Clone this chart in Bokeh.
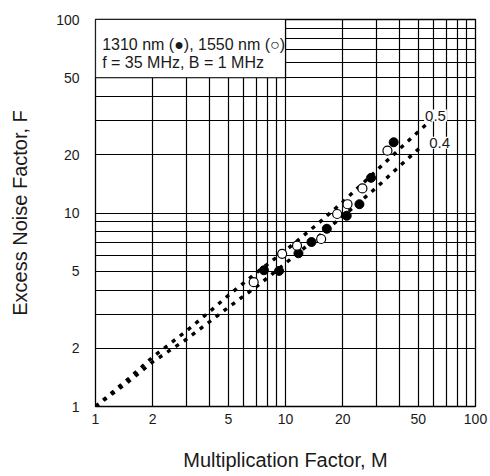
from bokeh.plotting import figure
from bokeh.models import FixedTicker, Label, CustomJSTickFormatter
from bokeh.embed import file_html
from bokeh.resources import INLINE

# ---- data ----
tick_vals = [1, 2, 5, 10, 20, 50, 100]
grid_vals = [1, 2, 3, 4, 5, 6, 7, 8, 9, 10, 20, 30, 40, 50, 60, 70, 80, 90, 100]

# measured points, 1310 nm (filled)
M_1310 = [7.7, 9.25, 11.7, 13.7, 16.5, 21.0, 24.5, 28.2, 37.1]
F_1310 = [5.06, 5.02, 6.19, 7.08, 8.29, 9.68, 11.1, 15.2, 23.2]
# measured points, 1550 nm (open)
M_1550 = [6.8, 9.6, 11.5, 15.4, 18.7, 21.2, 25.4, 34.4]
F_1550 = [4.39, 6.15, 6.78, 7.34, 9.88, 11.1, 13.4, 21.0]

# theoretical curves
M_k05 = [1, 1.5, 2, 3, 4, 5, 7, 10, 15, 20, 30, 40, 60]
F_k05 = [1, 1.4, 1.8, 2.45, 3.1, 3.75, 4.9, 6.4, 8.9, 11.4, 16.5, 21.5, 31]
M_k04 = [1, 1.5, 2, 3, 4, 5, 7, 10, 15, 20, 30, 40, 53]
F_k04 = [1, 1.35, 1.7, 2.22, 2.75, 3.25, 4.15, 5.5, 7.6, 9.6, 13.5, 17.5, 22.5]

curve_labels = ["0.5", "0.4"]
legend_lines = ["1310 nm (\u25cf), 1550 nm (\u25cb)", "f = 35 MHz, B = 1 MHz"]

FONT = "Liberation Sans"
TXT = "#1a1a1a"

p = figure(width=488, height=474, x_axis_type="log", y_axis_type="log",
           x_range=(1, 100), y_range=(1, 100),
           output_backend="svg", toolbar_location=None,
           min_border_left=95, min_border_right=13,
           min_border_top=19, min_border_bottom=68)

p.outline_line_color = "black"
p.outline_line_width = 1.3
p.background_fill_color = "white"
p.border_fill_color = "white"

for g in (p.xgrid, p.ygrid):
    g.ticker = FixedTicker(ticks=grid_vals)
    g.grid_line_color = "black"
    g.grid_line_alpha = 1.0
    g.grid_line_width = 1.2
    g.minor_grid_line_color = None

fmt = "return String(Math.round(tick));"
for ax in (p.xaxis, p.yaxis):
    ax.ticker = FixedTicker(ticks=tick_vals)
    ax.formatter = CustomJSTickFormatter(code=fmt)
    ax.axis_line_color = None
    ax.major_tick_line_color = None
    ax.minor_tick_line_color = None
    ax.major_tick_out = 0
    ax.major_tick_in = 0
    ax.major_label_text_font = FONT
    ax.major_label_text_font_size = "14px"
    ax.major_label_text_color = TXT
    ax.axis_label_text_font = FONT
    ax.axis_label_text_font_size = "20px"
    ax.axis_label_text_font_style = "normal"
    ax.axis_label_text_color = TXT

p.xaxis.axis_label = "Multiplication Factor, M"
p.yaxis.axis_label = "Excess Noise Factor, F"
p.xaxis.major_label_standoff = 7
p.xaxis.axis_label_standoff = 22
p.yaxis.major_label_standoff = 16
p.yaxis.axis_label_standoff = 22

# legend box covering the upper-left grid cells
p.quad(left=[tick_vals[0]], right=[tick_vals[3]], bottom=[tick_vals[5]], top=[tick_vals[6]],
       fill_color="white", line_color="black", line_width=1.2)

# curves
p.line(M_k05, F_k05, line_color="black", line_width=3.4, line_dash="4 6")
p.line(M_k04, F_k04, line_color="black", line_width=3.4, line_dash="4 6")

# data points
p.scatter(M_1310, F_1310, marker="circle", size=9, fill_color="black", line_color="black")
p.scatter(M_1550, F_1550, marker="circle", size=9, fill_color="white", line_color="black", line_width=1.2)

# curve labels
for txt, x, y in zip(curve_labels, [61.6, 64.7], [31.9, 23.1]):
    p.add_layout(Label(x=x, y=y, text=txt, text_align="center", text_baseline="middle",
                       text_font=FONT, text_font_size="15px", text_color=TXT,
                       background_fill_color="white", padding=1))

# legend text
for txt, y in zip(legend_lines, [74.7, 59.6]):
    p.add_layout(Label(x=1.084, y=y, text=txt, text_align="left", text_baseline="middle",
                       text_font=FONT, text_font_size="16px", text_color=TXT))

open("out.html", "w").write(file_html(p, INLINE))
